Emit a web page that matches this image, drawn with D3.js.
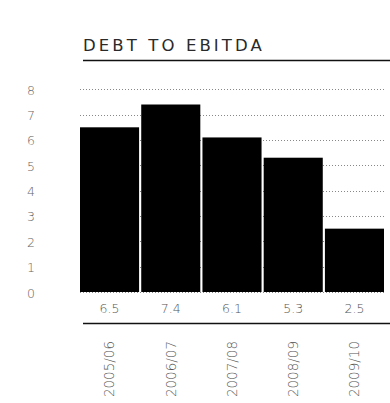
<!DOCTYPE html>
<html>
<head>
<meta charset="utf-8">
<script src="https://cdn.jsdelivr.net/npm/d3@7"></script>
<style>
  html, body { margin: 0; padding: 0; background: #fff; }
  svg { display: block; }
</style>
</head>
<body>
<svg id="chart" width="390" height="403"></svg>
<script>
// Debt to EBITDA ratio by financial year
const years = ["2005/06", "2006/07", "2007/08", "2008/09", "2009/10"];
const ratios = [6.5, 7.4, 6.1, 5.3, 2.5];
const yTicks = [0, 1, 2, 3, 4, 5, 6, 7, 8];
const title = "DEBT TO EBITDA";

const svg = d3.select("#chart");
const font = "'DejaVu Sans', sans-serif";

const x = d3.scaleBand().domain(years).range([80, 384]).paddingInner(0.035).paddingOuter(0);
const y = d3.scaleLinear().domain([0, 8]).range([292, 89.3]);

// Title and rule beneath it
svg.append("text")
  .attr("x", 83).attr("y", 51)
  .attr("font-family", font)
  .attr("font-size", 16.5)
  .attr("letter-spacing", 3.1)
  .attr("fill", "#2a2a2a")
  .text(title);
svg.append("line")
  .attr("x1", 83).attr("x2", 390)
  .attr("y1", 60.5).attr("y2", 60.5)
  .attr("stroke", "#111").attr("stroke-width", 1.4);

// Dotted gridlines
svg.append("g").selectAll("line").data(yTicks).join("line")
  .attr("x1", 80).attr("x2", 384)
  .attr("y1", d => Math.round(y(d)) + 0.5)
  .attr("y2", d => Math.round(y(d)) + 0.5)
  .attr("stroke", "#888").attr("stroke-width", 1)
  .attr("stroke-dasharray", "1,2");

// Y axis labels
const yAxis = d3.axisLeft(y).tickValues(yTicks).tickSize(0).tickPadding(0).tickFormat(d3.format("d"));
const yG = svg.append("g").attr("transform", "translate(35,1)").call(yAxis);
yG.select(".domain").remove();
yG.selectAll("text")
  .attr("font-family", font)
  .attr("font-weight", 200)
  .attr("font-size", 12.5)
  .attr("fill", "#666")
  .attr("text-anchor", "middle")
  .attr("x", -4);

// Bars
svg.append("g").selectAll("rect").data(ratios).join("rect")
  .attr("x", (d, i) => x(years[i]))
  .attr("width", x.bandwidth())
  .attr("y", d => y(d))
  .attr("height", d => y(0) - y(d))
  .attr("fill", "#000");

// Value labels under bars
svg.append("g").selectAll("text").data(ratios).join("text")
  .attr("x", (d, i) => x(years[i]) + x.bandwidth() / 2)
  .attr("y", 313)
  .attr("text-anchor", "middle")
  .attr("font-family", font)
  .attr("font-weight", 200)
  .attr("font-size", 12.5)
  .attr("fill", "#555")
  .text(d => d3.format(".1f")(d));

svg.append("line")
  .attr("x1", 83).attr("x2", 390)
  .attr("y1", 323.5).attr("y2", 323.5)
  .attr("stroke", "#111").attr("stroke-width", 1.4);

// Rotated year labels
const xAxis = d3.axisBottom(x).tickSize(0).tickPadding(0);
const xG = svg.append("g").attr("transform", "translate(0,341)").call(xAxis);
xG.select(".domain").remove();
xG.selectAll("text")
  .attr("font-family", font)
  .attr("font-weight", 200)
  .attr("font-size", 13.5)
  .attr("fill", "#555")
  .attr("text-anchor", "end")
  .attr("dy", "0.35em")
  .attr("y", 0)
  .attr("x", 0)
  .attr("transform", "rotate(-90)");
</script>
</body>
</html>
